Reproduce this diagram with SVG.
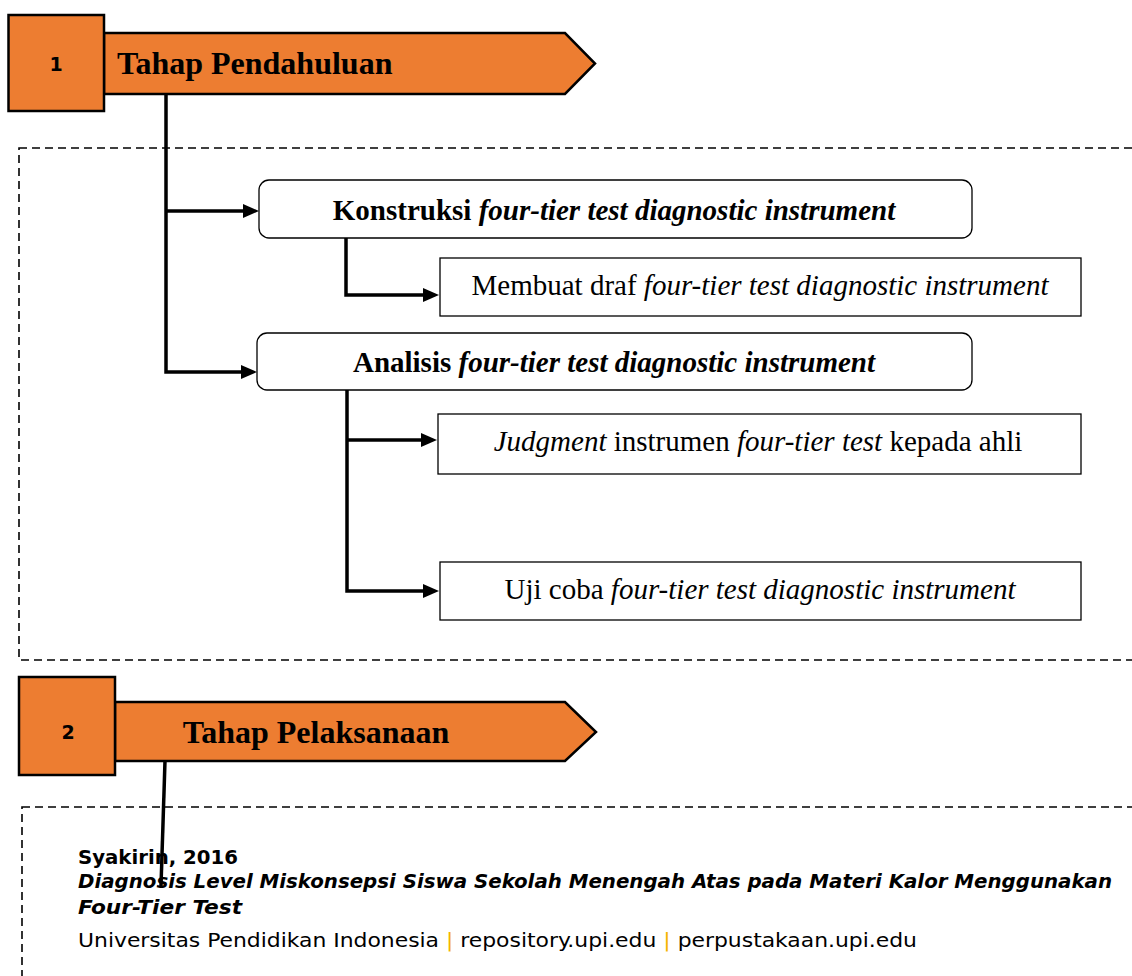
<svg xmlns="http://www.w3.org/2000/svg" width="1132" height="976" viewBox="0 0 1132 976">
<defs>
<marker id="ah" markerWidth="16" markerHeight="14" refX="1" refY="7" orient="auto" markerUnits="userSpaceOnUse">
<path d="M0,0 L16,7 L0,14 Z" fill="#000"/>
</marker>
<style>
.orange{fill:#ED7D31;stroke:#000;stroke-width:2.5}
.dash{fill:none;stroke:#000;stroke-width:1.6;stroke-dasharray:8,5}
.box{fill:#fff;stroke:#000;stroke-width:1.3}
.conn{fill:none;stroke:#000;stroke-width:3.5}
.t{font-family:"Liberation Serif","Times New Roman",serif;fill:#000}
.num{font-family:"DejaVu Sans",sans-serif;font-weight:bold;font-size:19px;fill:#000}
.foot{font-family:"DejaVu Sans Condensed","DejaVu Sans",sans-serif;font-size:19px;fill:#000}
</style>
</defs>
<rect width="1132" height="976" fill="#fff"/>
<rect class="dash" x="19" y="148" width="1140" height="512"/>
<rect class="dash" x="22" y="807" width="1140" height="200"/>
<g id="connectors">
<polyline class="conn" points="166,94 166,372 242,372" marker-end="url(#ah)"/>
<line class="conn" x1="166" y1="211" x2="244" y2="211" marker-end="url(#ah)"/>
<polyline class="conn" points="346,238 346,295 424,295" marker-end="url(#ah)"/>
<polyline class="conn" points="347,390 347,591 424,591" marker-end="url(#ah)"/>
<line class="conn" x1="347" y1="440" x2="422" y2="440" marker-end="url(#ah)"/>
<line class="conn" x1="165" y1="761" x2="161" y2="886"/>
</g>
<g id="stage1">
<path class="orange" d="M104,33 L565,33 L595,63.5 L565,94 L104,94 Z"/>
<rect class="orange" x="8.5" y="15" width="95.5" height="96"/>
<text class="num" x="56" y="71" text-anchor="middle">1</text>
<text class="t" x="117" y="74" font-size="32" font-weight="bold">Tahap Pendahuluan</text>
</g>
<g id="konstruksi">
<rect class="box" x="259" y="180" width="713" height="58" rx="10"/>
<text class="t" x="614" y="220" font-size="29" font-weight="bold" text-anchor="middle">Konstruksi <tspan font-style="italic">four-tier test diagnostic instrument</tspan></text>
</g>
<g id="membuat">
<rect class="box" x="440" y="258" width="641" height="58"/>
<text class="t" x="760" y="295" font-size="29" text-anchor="middle">Membuat draf <tspan font-style="italic">four-tier test diagnostic instrument</tspan></text>
</g>
<g id="analisis">
<rect class="box" x="257" y="333" width="715" height="57" rx="10"/>
<text class="t" x="614" y="372" font-size="29" font-weight="bold" text-anchor="middle">Analisis <tspan font-style="italic">four-tier test diagnostic instrument</tspan></text>
</g>
<g id="judgment">
<rect class="box" x="438" y="414" width="643" height="60"/>
<text class="t" x="758" y="451" font-size="29" text-anchor="middle"><tspan font-style="italic">Judgment</tspan> instrumen <tspan font-style="italic">four-tier test</tspan> kepada ahli</text>
</g>
<g id="ujicoba">
<rect class="box" x="440" y="562" width="641" height="58"/>
<text class="t" x="760" y="599" font-size="29" text-anchor="middle">Uji coba <tspan font-style="italic">four-tier test diagnostic instrument</tspan></text>
</g>
<g id="stage2">
<path class="orange" d="M115,702 L565,702 L596,732 L565,761 L115,761 Z"/>
<rect class="orange" x="19" y="677" width="96" height="98"/>
<text class="num" x="68" y="739" text-anchor="middle">2</text>
<text class="t" x="316" y="743" font-size="32" font-weight="bold" text-anchor="middle">Tahap Pelaksanaan</text>
</g>
<g id="footer">
<text class="foot" x="78" y="864" font-weight="bold" textLength="160" lengthAdjust="spacingAndGlyphs">Syakirin, 2016</text>
<text class="foot" x="78" y="888" font-weight="bold" font-style="italic" textLength="1034" lengthAdjust="spacingAndGlyphs">Diagnosis Level Miskonsepsi Siswa Sekolah Menengah Atas pada Materi Kalor Menggunakan</text>
<text class="foot" x="78" y="914" font-weight="bold" font-style="italic" textLength="164" lengthAdjust="spacingAndGlyphs">Four-Tier Test</text>
<text class="foot" x="78" y="947" textLength="839" lengthAdjust="spacingAndGlyphs">Universitas Pendidikan Indonesia <tspan fill="#F5B400">|</tspan> repository.upi.edu <tspan fill="#F5B400">|</tspan> perpustakaan.upi.edu</text>
</g>
</svg>
